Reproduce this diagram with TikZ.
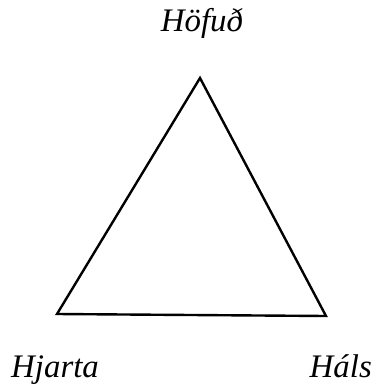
\documentclass[tikz,border=0pt]{standalone}
\usepackage{fontspec}
\setmainfont{Liberation Serif}
\begin{document}
\begin{tikzpicture}[x=1bp,y=-1bp,
  lbl/.style={font=\itshape\fontsize{33}{33}\selectfont, inner sep=0pt},
  edge/.style={line width=2.4bp, line join=miter}]
\useasboundingbox[fill=white] (0,0) rectangle (374,385);
\coordinate (top) at (200,78);
\coordinate (bl) at (57,314);
\coordinate (br) at (326,316);
\draw[edge] (top) -- (bl) -- (br) -- cycle;
\node[lbl, anchor=base] (h) at (202,31) {Höfuð};
\node[lbl, anchor=base west] (hj) at (11,377) {Hjarta};
\node[lbl, anchor=base east] (ha) at (372,377) {Háls};
\end{tikzpicture}
\end{document}
